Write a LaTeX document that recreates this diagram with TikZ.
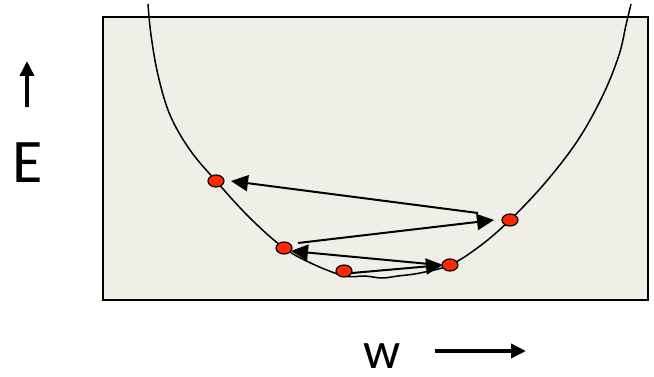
\documentclass[tikz,border=0pt]{standalone}
\usepackage{fontspec}
\setmainfont{Carlito}
\usetikzlibrary{arrows.meta,shapes.geometric}
\definecolor{panel}{RGB}{239,239,231}
\definecolor{dotred}{RGB}{255,40,0}
\tikzset{
  dot/.style={ellipse,draw=black,line width=1.2pt,fill=dotred,minimum width=16pt,minimum height=12pt,inner sep=0pt},
  jump/.style={line width=2pt,-{Triangle[length=17pt,width=16pt]}},
  axisarrow/.style={line width=3.5pt,-{Triangle[length=15pt,width=14pt]}},
  curve/.style={line width=1.5pt},
}
\begin{document}
\begin{tikzpicture}[x=1pt,y=-1pt]
\useasboundingbox (0,0) rectangle (654,377);
\node[draw=black,line width=1.8pt,fill=panel,minimum width=545pt,minimum height=283pt,inner sep=0pt,anchor=north west] (panel) at (102,16) {};
\draw[curve] plot[smooth,tension=0.6] coordinates {(148,4) (151,35) (158,75) (170,115) (190,150) (216,181) (250,218) (284,248) (315,265) (345,276) (365,276) (382,278) (398,276) (420,273) (450,265) (480,246) (510,220) (545,183) (578,140) (603,95) (619,55) (626,25) (631,4)};
\node[dot] (d1) at (216,181) {};
\node[dot] (d2) at (284,248) {};
\node[dot] (d3) at (344,271) {};
\node[dot] (d4) at (450,265) {};
\node[dot] (d5) at (510,220) {};
\coordinate (a1s) at (478,213);
\coordinate (a1e) at (231,181);
\coordinate (a2s) at (298,243);
\coordinate (a2e) at (494,220);
\coordinate (a3s) at (440,265);
\coordinate (a3e) at (291,251);
\coordinate (a4s) at (352,273);
\coordinate (a4e) at (443,265);
\draw[jump] (a1s) -- (a1e);
\draw[jump] (a2s) -- (a2e);
\draw[jump] (a3s) -- (a3e);
\draw[jump] (a4s) -- (a4e);
\coordinate (e1) at (27,107);
\coordinate (e2) at (27,61);
\draw[axisarrow] (e1) -- (e2);
\node[font=\fontsize{62}{62}\selectfont,inner sep=0pt] (E) at (28,163) {E};
\coordinate (w1) at (435,351);
\coordinate (w2) at (526,351);
\draw[axisarrow] (w1) -- (w2);
\node[font=\fontsize{52}{52}\selectfont,inner sep=0pt,anchor=base] (w) at (382,368) {w};
\end{tikzpicture}
\end{document}
